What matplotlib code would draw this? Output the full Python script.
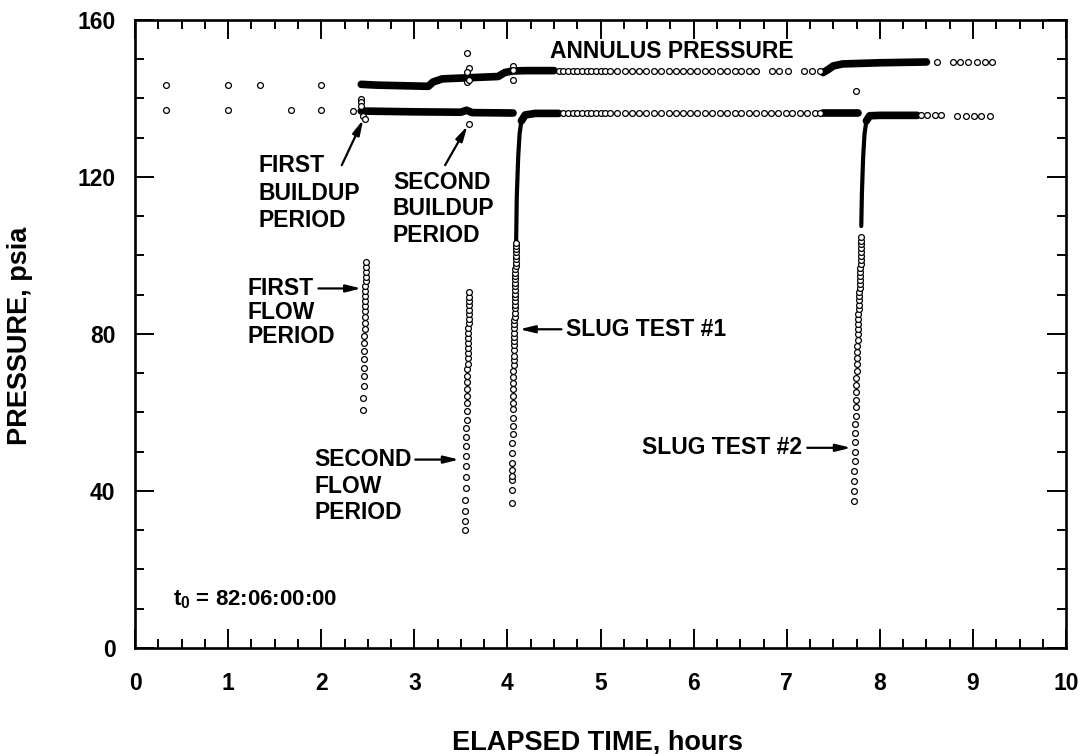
import matplotlib
matplotlib.use("Agg")
import matplotlib.pyplot as plt
from matplotlib.ticker import MultipleLocator

plt.rcParams['font.family'] = ['Liberation Sans', 'DejaVu Sans']
plt.rcParams['font.weight'] = 'bold'
plt.rcParams['mathtext.fontset'] = 'custom'
plt.rcParams['mathtext.rm'] = 'Liberation Sans:bold'
plt.rcParams['mathtext.it'] = 'Liberation Sans:bold'
plt.rcParams['mathtext.bf'] = 'Liberation Sans:bold'

# ---------------- data (hours, psia) ----------------
# Annulus pressure: sparse early readings
ann_early_t = [0.33, 1.0, 1.34, 2.0]
ann_early_p = [143.5, 143.5, 143.5, 143.5]
# Annulus pressure: dense (continuous) recording segments
ann_trace1_t = [2.43, 2.6, 3.15, 3.2, 3.3, 3.9, 3.97, 4.05, 4.2, 4.5]
ann_trace1_p = [143.6, 143.4, 143.1, 144.2, 145.0, 145.6, 146.6, 147.0, 147.1, 147.1]
ann_trace2_t = [7.39, 7.44, 7.5, 7.6, 8.0, 8.5]
ann_trace2_p = [146.6, 147.3, 148.3, 148.8, 149.1, 149.3]
# Annulus pressure: scattered / sparse circles
ann_pts_t = [3.56, 3.59, 3.56, 3.56, 3.59, 4.06, 4.06, 4.06,
             4.55, 4.6, 4.65, 4.7, 4.75, 4.8, 4.85, 4.9, 4.95, 5.0, 5.05,
             5.10, 5.18, 5.26, 5.34, 5.41, 5.49, 5.57, 5.65, 5.73, 5.81, 5.89,
             5.96, 6.04, 6.12, 6.20, 6.28, 6.36, 6.44, 6.51, 6.59, 6.67,
             6.84, 6.92, 7.01, 7.18, 7.27, 7.36, 7.74,
             8.61, 8.78, 8.86, 8.95, 9.04, 9.13, 9.20]
ann_pts_p = [151.6, 147.8, 146.8, 144.2, 144.6, 148.3, 147.3, 144.6,
             147.1, 147.1, 147.1, 147.1, 147.1, 147.1, 147.0, 147.0, 147.0, 147.0, 147.0,
             147.0, 147.0, 147.0, 147.0, 147.0, 147.0, 147.0, 147.0, 147.0, 147.0, 147.0,
             147.0, 147.0, 147.0, 147.0, 147.0, 147.0, 147.0, 147.0, 147.0, 147.0,
             147.0, 147.0, 147.0, 147.0, 147.0, 147.0, 142.0,
             149.2, 149.2, 149.2, 149.2, 149.2, 149.2, 149.2]

# Tubing pressure: sparse early readings
tub_early_t = [0.33, 1.0, 1.67, 2.0, 2.34]
tub_early_p = [137.0, 137.0, 137.0, 137.0, 136.9]
# Tubing pressure: dense segments
tub_trace1_t = [2.43, 3.0, 3.5, 3.56, 3.62, 4.06]
tub_trace1_p = [136.8, 136.6, 136.5, 137.0, 136.4, 136.3]
tub_trace2_t = [4.093, 4.10, 4.115, 4.13, 4.15, 4.19, 4.3, 4.55]
tub_trace2_p = [103.5, 115.0, 125.0, 131.0, 134.3, 135.8, 136.2, 136.2]
tub_trace3_t = [7.39, 7.77]
tub_trace3_p = [136.2, 136.2]
tub_trace4_t = [7.80, 7.807, 7.82, 7.835, 7.855, 7.89, 8.0, 8.4]
tub_trace4_p = [107.5, 116.0, 125.0, 131.0, 134.3, 135.6, 135.7, 135.7]
# Tubing pressure: buildup scatter and sparse circles
tub_pts_t = [2.43, 2.43, 2.43, 2.45, 2.47, 3.59,
             4.6, 4.65, 4.7, 4.75, 4.8, 4.85, 4.9, 4.95, 5.0, 5.05,
             5.10, 5.18, 5.26, 5.34, 5.41, 5.49, 5.57, 5.65, 5.73, 5.81, 5.89,
             5.96, 6.04, 6.12, 6.20, 6.28, 6.36, 6.44, 6.51, 6.59, 6.67, 6.75,
             6.83, 6.91, 6.99, 7.06, 7.14, 7.22, 7.30, 7.36,
             8.44, 8.51, 8.59, 8.66, 8.83, 8.92, 9.01, 9.09, 9.18]
tub_pts_p = [139.9, 139.1, 138.0, 135.6, 134.8, 133.5,
             136.2, 136.2, 136.2, 136.2, 136.2, 136.2, 136.2, 136.2, 136.2, 136.2,
             136.2, 136.2, 136.2, 136.2, 136.2, 136.2, 136.2, 136.2, 136.2, 136.2, 136.2,
             136.2, 136.2, 136.2, 136.2, 136.2, 136.2, 136.2, 136.2, 136.2, 136.2, 136.2,
             136.2, 136.2, 136.2, 136.2, 136.2, 136.2, 136.2, 136.2,
             135.7, 135.7, 135.7, 135.7, 135.6, 135.6, 135.6, 135.6, 135.6]

# First flow period
ff_t = [2.452, 2.453, 2.455, 2.456, 2.457, 2.459, 2.460, 2.462, 2.463, 2.465, 2.466, 2.467,
        2.469, 2.470, 2.471, 2.473, 2.474, 2.475, 2.476, 2.477, 2.478, 2.480, 2.481]
ff_p = [60.7, 63.7, 66.7, 69.2, 71.4, 73.5, 75.7, 77.6, 79.5, 81.2, 82.9, 84.3,
        85.9, 87.2, 88.4, 89.7, 91.0, 92.3, 93.4, 94.6, 95.7, 97.0, 98.4]

# Second flow period
sf_t = [3.545, 3.546, 3.548, 3.549, 3.550, 3.552, 3.553, 3.555, 3.556, 3.557, 3.559, 3.560,
        3.562, 3.563, 3.564, 3.566, 3.567, 3.569, 3.570, 3.571, 3.573, 3.574, 3.576, 3.577,
        3.578, 3.580, 3.581, 3.583, 3.584, 3.585, 3.587, 3.588, 3.589, 3.590, 3.590]
sf_p = [30.1, 32.3, 34.8, 37.8, 40.8, 43.6, 46.3, 48.8, 51.4, 53.8, 56.1, 58.2,
        60.3, 62.3, 64.2, 66.0, 67.7, 69.4, 71.0, 72.4, 73.8, 75.2, 76.5, 77.8,
        79.0, 80.3, 81.6, 82.7, 83.9, 85.0, 86.1, 87.3, 88.4, 89.5, 90.7]

# Slug test #1 recovery
s1_t = [4.046, 4.047, 4.048, 4.050, 4.051, 4.052, 4.053, 4.054, 4.055, 4.056, 4.057, 4.058,
        4.059, 4.060, 4.061, 4.062, 4.063, 4.064, 4.065, 4.066, 4.067, 4.068, 4.069, 4.070,
        4.071, 4.072, 4.073, 4.074, 4.075, 4.076, 4.077, 4.078, 4.079, 4.080, 4.080, 4.081,
        4.082, 4.083, 4.083, 4.084, 4.085, 4.085, 4.086, 4.087, 4.087, 4.088, 4.089, 4.089,
        4.090, 4.091, 4.092]
s1_p = [36.9, 40.3, 42.9, 43.7, 45.4, 47.1, 49.7, 52.2, 54.4, 56.5, 58.6, 60.8,
        62.5, 64.2, 65.9, 67.6, 69.1, 70.5, 72.0, 73.3, 74.5, 75.8, 77.1, 78.2,
        79.3, 80.3, 81.4, 82.5, 83.5, 84.4, 85.4, 86.5, 87.4, 88.3, 89.3, 90.2,
        91.1, 92.1, 93.0, 93.9, 94.8, 95.6, 96.5, 97.4, 98.2, 99.0, 99.9, 100.8,
        101.6, 102.5, 103.3]

# Slug test #2 recovery
s2_t = [7.720, 7.722, 7.724, 7.726, 7.728, 7.730, 7.732, 7.734, 7.736, 7.738, 7.740,
        7.742, 7.744, 7.746, 7.748, 7.750, 7.752, 7.754, 7.756, 7.758, 7.760, 7.762, 7.764,
        7.766, 7.768, 7.770, 7.772, 7.774, 7.776, 7.778, 7.780, 7.782, 7.784, 7.786, 7.788,
        7.790, 7.791, 7.792, 7.793, 7.794, 7.795, 7.796, 7.797, 7.798, 7.799]
s2_p = [37.4, 40.0, 42.6, 45.1, 47.6, 50.0, 52.4, 54.7, 57.0, 59.2, 61.3,
        63.3, 65.2, 67.1, 68.9, 70.6, 72.3, 73.9, 75.5, 77.0, 78.5, 79.9, 81.3,
        82.6, 83.9, 85.1, 86.3, 87.5, 88.6, 89.7, 90.8, 91.8, 92.8, 93.8, 94.8,
        95.8, 96.8, 97.8, 98.8, 99.8, 100.8, 101.8, 102.8, 103.8, 104.8]

x_ticks = [0, 1, 2, 3, 4, 5, 6, 7, 8, 9, 10]
y_ticks = [0, 40, 80, 120, 160]

# ---------------- figure ----------------
fig = plt.figure(figsize=(10.83, 7.54), dpi=100)
ax = fig.add_axes([0.1247, 0.1406, 0.8597, 0.8329])

trace_kw = dict(color='black', lw=5.5, solid_capstyle='round', solid_joinstyle='round', zorder=3)
thin_trace_kw = dict(color='black', lw=3.0, solid_capstyle='round', solid_joinstyle='round', zorder=3)
circ_kw = dict(ls='none', marker='o', ms=4.2, mfc='white', mec='black', mew=0.9, zorder=4)

ax.plot(ann_trace1_t, ann_trace1_p, **trace_kw)
ax.plot(ann_trace2_t, ann_trace2_p, **trace_kw)
ax.plot(tub_trace1_t, tub_trace1_p, **trace_kw)
ax.plot(tub_trace2_t[:5], tub_trace2_p[:5], **thin_trace_kw)
ax.plot(tub_trace2_t[4:], tub_trace2_p[4:], **trace_kw)
ax.plot(tub_trace3_t, tub_trace3_p, **trace_kw)
ax.plot(tub_trace4_t[:5], tub_trace4_p[:5], **thin_trace_kw)
ax.plot(tub_trace4_t[4:], tub_trace4_p[4:], **trace_kw)

for tt, pp in [(ann_early_t, ann_early_p), (ann_pts_t, ann_pts_p),
               (tub_early_t, tub_early_p), (tub_pts_t, tub_pts_p),
               (ff_t, ff_p), (sf_t, sf_p), (s1_t, s1_p), (s2_t, s2_p)]:
    ax.plot(tt, pp, **circ_kw)

ax.set_xlim(0, 10)
ax.set_ylim(0, 160)
ax.set_xticks(x_ticks)
ax.set_yticks(y_ticks)
ax.xaxis.set_minor_locator(MultipleLocator(0.25))
ax.yaxis.set_minor_locator(MultipleLocator(10))
ax.tick_params(which='both', direction='in', top=True, right=True, width=1.4)
ax.tick_params(which='major', length=14)
ax.tick_params(which='minor', length=6.5)
ax.tick_params(axis='x', which='major', pad=17, labelsize=16.5)
ax.tick_params(axis='y', which='major', pad=14, labelsize=16.5)
for lab in ax.get_xticklabels() + ax.get_yticklabels():
    lab.set_fontweight('bold')
for sp in ax.spines.values():
    sp.set_linewidth(1.9)

ax.set_xlabel('ELAPSED TIME, hours', fontsize=19.5, fontweight='bold')
ax.set_ylabel('PRESSURE, psia', fontsize=19.5, fontweight='bold')
ax.xaxis.set_label_coords(0.497, -0.130)
ax.yaxis.set_label_coords(-0.110, 0.497)

tkw = dict(fontsize=16.5, fontweight='bold', color='black', zorder=5)
arr = dict(arrowstyle='-|>,head_length=0.9,head_width=0.22', color='black', lw=1.6, shrinkA=0, shrinkB=0)

ax.text(5.76, 152.0, 'ANNULUS PRESSURE', ha='center', va='center', **tkw)

ax.text(1.33, 122.8, 'FIRST', ha='left', va='center', **tkw)
ax.text(1.33, 115.9, 'BUILDUP', ha='left', va='center', **tkw)
ax.text(1.33, 109.0, 'PERIOD', ha='left', va='center', **tkw)
ax.annotate('', xy=(2.45, 134.6), xytext=(2.22, 123.0), arrowprops=arr)

ax.text(2.77, 118.7, 'SECOND', ha='left', va='center', **tkw)
ax.text(2.77, 111.9, 'BUILDUP', ha='left', va='center', **tkw)
ax.text(2.77, 105.1, 'PERIOD', ha='left', va='center', **tkw)
ax.annotate('', xy=(3.57, 133.0), xytext=(3.33, 123.0), arrowprops=arr)

ax.text(1.21, 91.6, 'FIRST', ha='left', va='center', **tkw)
ax.text(1.21, 85.5, 'FLOW', ha='left', va='center', **tkw)
ax.text(1.21, 79.4, 'PERIOD', ha='left', va='center', **tkw)
ax.annotate('', xy=(2.43, 91.6), xytext=(1.97, 91.6), arrowprops=arr)

ax.text(1.93, 48.0, 'SECOND', ha='left', va='center', **tkw)
ax.text(1.93, 41.2, 'FLOW', ha='left', va='center', **tkw)
ax.text(1.93, 34.6, 'PERIOD', ha='left', va='center', **tkw)
ax.annotate('', xy=(3.48, 48.0), xytext=(3.01, 48.0), arrowprops=arr)

ax.annotate('', xy=(4.13, 81.2), xytext=(4.58, 81.2), arrowprops=arr)
ax.text(4.63, 81.2, 'SLUG TEST #1', ha='left', va='center', **tkw)

ax.text(7.16, 51.0, 'SLUG TEST #2', ha='right', va='center', **tkw)
ax.annotate('', xy=(7.69, 51.0), xytext=(7.22, 51.0), arrowprops=arr)

ax.text(0.41, 12.3, '$t_0$ = 82:06:00:00', ha='left', va='center', fontsize=16, fontweight='bold')

fig.savefig('out.png', dpi=100)
